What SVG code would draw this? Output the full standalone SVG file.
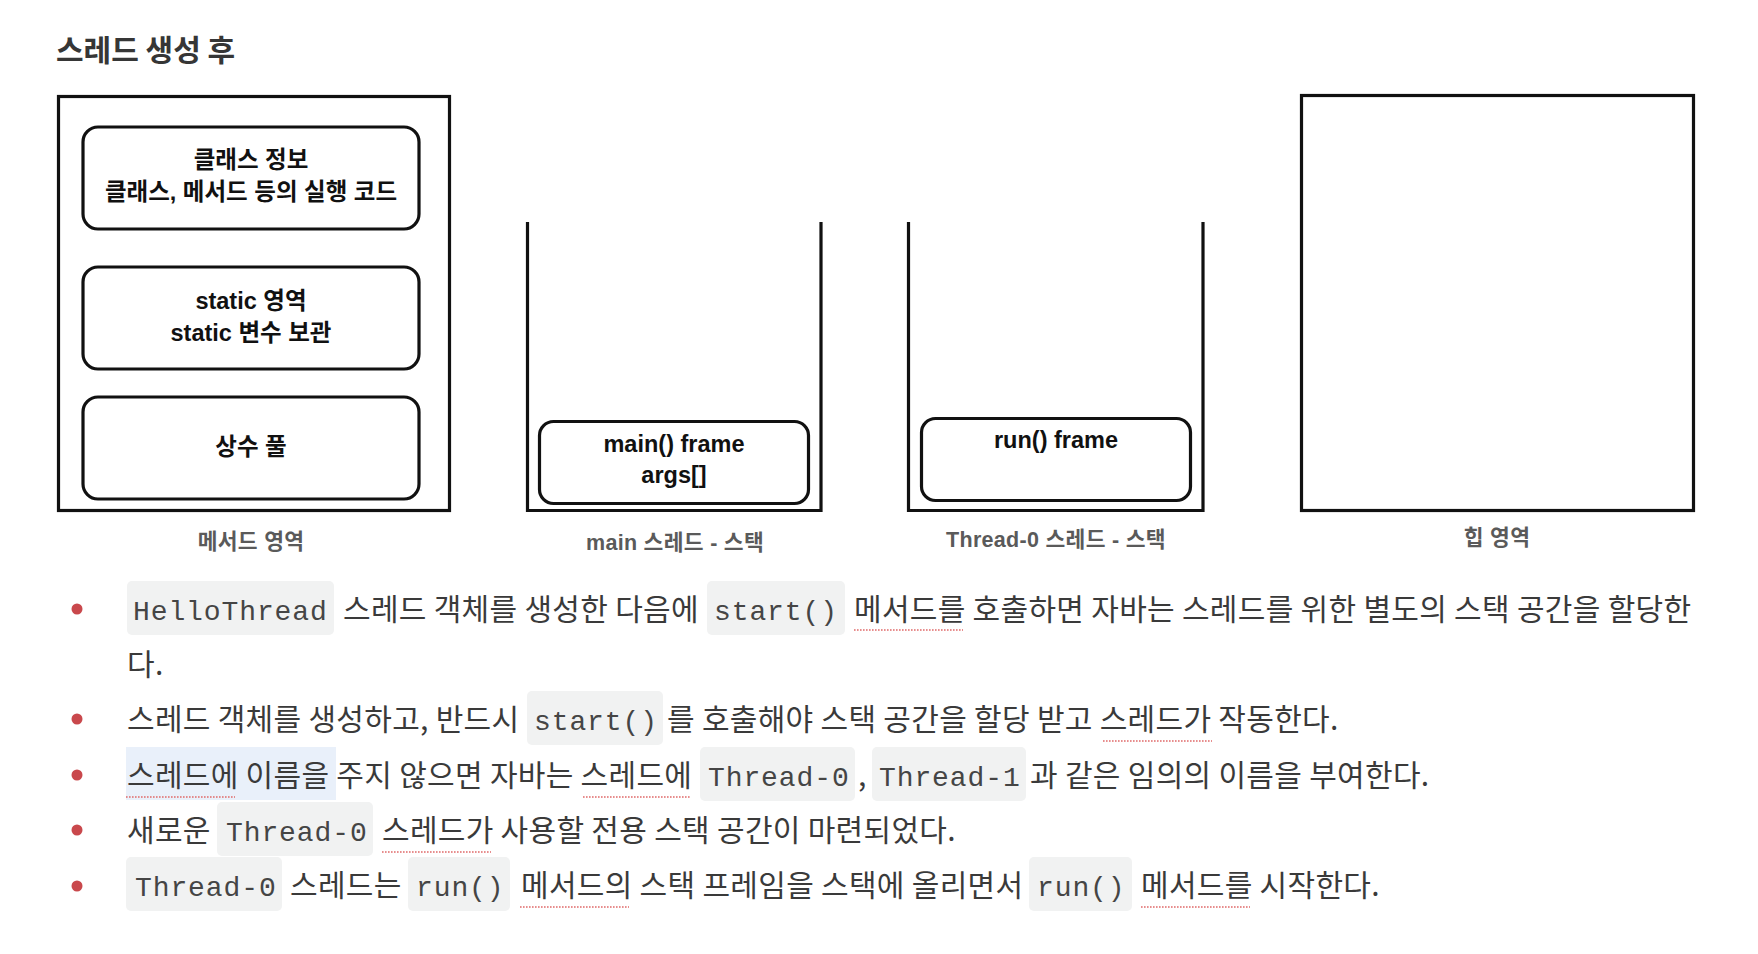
<svg xmlns="http://www.w3.org/2000/svg" width="1758" height="954" viewBox="0 0 1758 954">
<style>
.bg{fill:#ffffff}
.box{fill:none;stroke:#111;stroke-width:3.2}
.rbox{fill:#fff;stroke:#111;stroke-width:3.2}
.title{font-family:"Noto Sans CJK KR","Liberation Sans",sans-serif;font-weight:700;font-size:30px;fill:#363636}
.t{font-family:"Liberation Sans","Noto Sans CJK KR",sans-serif;font-weight:700;font-size:23.5px;fill:#111;text-anchor:middle}
.lbl{font-family:"Liberation Sans","Noto Sans CJK KR",sans-serif;font-weight:700;font-size:21.5px;letter-spacing:0.3px;fill:#5a5a5a;text-anchor:middle}
.body{font-family:"Noto Sans CJK KR","Liberation Sans",sans-serif;font-size:30px;letter-spacing:0.3px;fill:#3a3a3a}
.code{font-family:"Liberation Mono","DejaVu Sans Mono",monospace;font-size:28px;letter-spacing:0.9px;fill:#454545}
.cbg{fill:#f1f2f2}
.dot{fill:#c9484c}
.ul{stroke:#e06a6a;stroke-width:1.6;stroke-dasharray:1.6 1.4;fill:none}
</style>
<rect class="bg" x="0" y="0" width="1758" height="954"/>
<text class="title" x="56" y="61">스레드 생성 후</text>

<g id="method-area">
<rect class="box" x="58.5" y="96.5" width="391" height="414"/>
<rect class="rbox" x="83" y="127" width="336" height="102" rx="15"/>
<text class="t" x="251" y="168">클래스 정보</text>
<text class="t" x="251" y="200">클래스, 메서드 등의 실행 코드</text>
<rect class="rbox" x="83" y="267" width="336" height="102" rx="15"/>
<text class="t" x="251" y="309">static 영역</text>
<text class="t" x="251" y="341">static 변수 보관</text>
<rect class="rbox" x="83" y="397" width="336" height="102" rx="15"/>
<text class="t" x="251" y="455">상수 풀</text>
<text class="lbl" x="251" y="549">메서드 영역</text>
</g>

<g id="main-stack">
<path class="box" d="M527.5,222 V510.5 H821 V222"/>
<rect class="rbox" x="539.5" y="421.5" width="269" height="82" rx="14"/>
<text class="t" x="674" y="452">main() frame</text>
<text class="t" x="674" y="483">args[]</text>
<text class="lbl" x="675" y="550">main 스레드 - 스택</text>
</g>

<g id="thread0-stack">
<path class="box" d="M908.5,222 V510.5 H1203 V222"/>
<rect class="rbox" x="921.5" y="418.5" width="269" height="82" rx="14"/>
<text class="t" x="1056" y="448">run() frame</text>
<text class="lbl" x="1056" y="547">Thread-0 스레드 - 스택</text>
</g>

<g id="heap">
<rect class="box" x="1301.5" y="95.5" width="392" height="415"/>
<text class="lbl" x="1497" y="545">힙 영역</text>
</g>

<g id="connectors"></g>

<g id="notes">
<circle class="dot" cx="77" cy="609" r="5.5"/>
<circle class="dot" cx="77" cy="719" r="5.5"/>
<circle class="dot" cx="77" cy="775" r="5.5"/>
<circle class="dot" cx="77" cy="830" r="5.5"/>
<circle class="dot" cx="77" cy="886" r="5.5"/>

<rect class="cbg" x="127" y="581" width="207" height="54" rx="5"/>
<rect class="cbg" x="707" y="581" width="138" height="54" rx="5"/>
<rect class="cbg" x="527" y="691" width="136" height="54" rx="5"/>
<rect fill="#e9f0fa" x="126" y="747" width="210" height="53"/>
<rect class="cbg" x="700" y="747" width="155" height="54" rx="5"/>
<rect class="cbg" x="872" y="747" width="154" height="54" rx="5"/>
<rect class="cbg" x="217" y="802" width="156" height="54" rx="5"/>
<rect class="cbg" x="126" y="857" width="156" height="54" rx="5"/>
<rect class="cbg" x="408" y="857" width="102" height="54" rx="5"/>
<rect class="cbg" x="1029" y="857" width="103" height="54" rx="5"/>

<text class="code" x="133" y="620">HelloThread</text>
<text class="body" x="343" y="620">스레드 객체를 생성한 다음에</text>
<text class="code" x="714" y="620">start()</text>
<text class="body" x="854" y="620">메서드를 호출하면 자바는 스레드를 위한 별도의 스택 공간을 할당한</text>
<text class="body" x="127" y="675">다.</text>

<text class="body" x="127" y="730">스레드 객체를 생성하고, 반드시</text>
<text class="code" x="534" y="730">start()</text>
<text class="body" x="667" y="730">를 호출해야 스택 공간을 할당 받고 스레드가 작동한다.</text>

<text class="body" x="127" y="786">스레드에 이름을 주지 않으면 자바는 스레드에</text>
<text class="code" x="708" y="786">Thread-0</text>
<text class="body" x="858" y="786">,</text>
<text class="code" x="879" y="786">Thread-1</text>
<text class="body" x="1030" y="786">과 같은 임의의 이름을 부여한다.</text>

<text class="body" x="127" y="841">새로운</text>
<text class="code" x="226" y="841">Thread-0</text>
<text class="body" x="382" y="841">스레드가 사용할 전용 스택 공간이 마련되었다.</text>

<text class="code" x="135" y="896">Thread-0</text>
<text class="body" x="290" y="896">스레드는</text>
<text class="code" x="416" y="896">run()</text>
<text class="body" x="521" y="896">메서드의 스택 프레임을 스택에 올리면서</text>
<text class="code" x="1037" y="896">run()</text>
<text class="body" x="1141" y="896">메서드를 시작한다.</text>

<path class="ul" d="M854,630 H963 M1103,741 H1212 M126,797 H235 M583,797 H691 M382,852 H491 M520,907 H629 M1141,907 H1250"/>
</g>
</svg>
